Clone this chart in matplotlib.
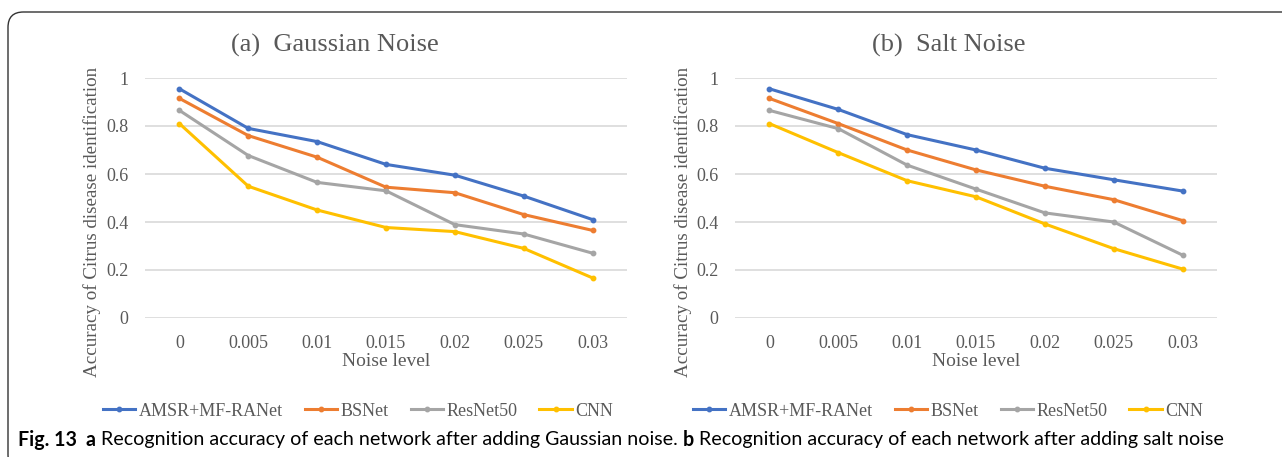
import matplotlib
matplotlib.use('Agg')
import matplotlib.pyplot as plt
from matplotlib.patches import FancyBboxPatch
from matplotlib.lines import Line2D

#################### Data ####################
noise_levels = ['0', '0.005', '0.01', '0.015', '0.02', '0.025', '0.03']
series_names = ['AMSR+MF-RANet', 'BSNet', 'ResNet50', 'CNN']
series_colors = ['#4472C4', '#ED7D31', '#A5A5A5', '#FFC000']

gauss_amsr = [0.955, 0.79, 0.735, 0.64, 0.595, 0.508, 0.41]
gauss_bsnet = [0.915, 0.76, 0.67, 0.545, 0.522, 0.431, 0.365]
gauss_resnet = [0.865, 0.677, 0.565, 0.53, 0.389, 0.35, 0.27]
gauss_cnn = [0.81, 0.549, 0.45, 0.377, 0.36, 0.29, 0.167]

salt_amsr = [0.955, 0.869, 0.764, 0.70, 0.624, 0.576, 0.529]
salt_bsnet = [0.915, 0.81, 0.70, 0.617, 0.549, 0.493, 0.406]
salt_resnet = [0.865, 0.789, 0.637, 0.537, 0.438, 0.40, 0.262]
salt_cnn = [0.81, 0.689, 0.572, 0.505, 0.392, 0.289, 0.204]

panels = [
    ('(a)  Gaussian Noise', [gauss_amsr, gauss_bsnet, gauss_resnet, gauss_cnn]),
    ('(b)  Salt Noise', [salt_amsr, salt_bsnet, salt_resnet, salt_cnn]),
]

caption_parts = [
    ('Fig. 13  ', 'bold'),
    ('a ', 'bold'),
    ('Recognition accuracy of each network after adding Gaussian noise. ', 'normal'),
    ('b ', 'bold'),
    ('Recognition accuracy of each network after adding salt noise', 'normal'),
]

#################### Figure ####################
W, H = 1282, 457
fig = plt.figure(figsize=(W / 100, H / 100), dpi=100)
serif = 'Liberation Serif'
sans = 'Lato'
txt_gray = '#595959'

def px(x, y):
    return x / W, 1 - y / H

# frame with rounded corner
frame = FancyBboxPatch(px(8, 470), (1320 - 8) / W, (470 - 12) / H,
                       boxstyle='round,pad=0,rounding_size=0.012',
                       transform=fig.transFigure, fill=False,
                       edgecolor='#333333', lw=1.0, mutation_aspect=W / H)
fig.patches.append(frame)

axes_left = [145, 735]
title_x = [335, 949]
ylab_x = [92, 683]

for i, (title, values) in enumerate(panels):
    x0 = axes_left[i]
    ax = fig.add_axes([x0 / W, 1 - 318 / H, 482 / W, 240 / H])
    xs = list(range(len(noise_levels)))
    for name, vals, col in zip(series_names, values, series_colors):
        ax.plot(xs, vals, color=col, lw=2.2, marker='o', ms=3.2, label=name,
                solid_capstyle='butt')
    ax.set_xlim(-0.5, len(noise_levels) - 0.5)
    ax.set_ylim(0, 1)
    ax.set_yticks([0, 0.2, 0.4, 0.6, 0.8, 1])
    ax.set_yticklabels(['0', '0.2', '0.4', '0.6', '0.8', '1'])
    ax.set_xticks(xs)
    ax.set_xticklabels(noise_levels)
    ax.grid(axis='y', color='#D9D9D9', lw=1.2)
    ax.set_axisbelow(True)
    for s in ax.spines.values():
        s.set_visible(False)
    ax.tick_params(length=0, labelsize=13, labelcolor=txt_gray, pad=12)
    for lab in ax.get_xticklabels() + ax.get_yticklabels():
        lab.set_fontfamily(serif)
    ax.set_xlabel('Noise level', fontsize=14, color=txt_gray, family=serif, labelpad=1)

    fig.text(*px(ylab_x[i], 222), 'Accuracy of Citrus disease identification',
             rotation=90, ha='center', va='center', fontsize=13.7,
             color=txt_gray, family=serif)
    fig.text(*px(title_x[i], 45), title, ha='center', va='center',
             fontsize=19, color=txt_gray, family=serif)

    handles = [Line2D([], [], color=c, lw=2.2, marker='o', ms=3.2) for c in series_colors]
    fig.legend(handles, series_names, loc='center',
               bbox_to_anchor=px(x0 + 213, 411), ncol=4, frameon=False,
               prop={'family': serif, 'size': 13}, labelcolor=txt_gray,
               handlelength=1.8, handletextpad=0.2, columnspacing=1.2)

# caption, pieces chained left to right and sized to the reference width
renderer = fig.canvas.get_renderer()
cap_size = 13
pieces = []
for s, w in caption_parts:
    pieces.append(fig.text(0, 0, s, fontsize=cap_size, family=sans, weight=w))
total = sum(p.get_window_extent(renderer).width for p in pieces)
cap_size = cap_size * 1204 / total
x = 18
for p in pieces:
    p.set_fontsize(cap_size)
    p.set_position(px(x, 440))
    p.set_va('center')
    x += p.get_window_extent(renderer).width

fig.savefig('out.png', dpi=100)
